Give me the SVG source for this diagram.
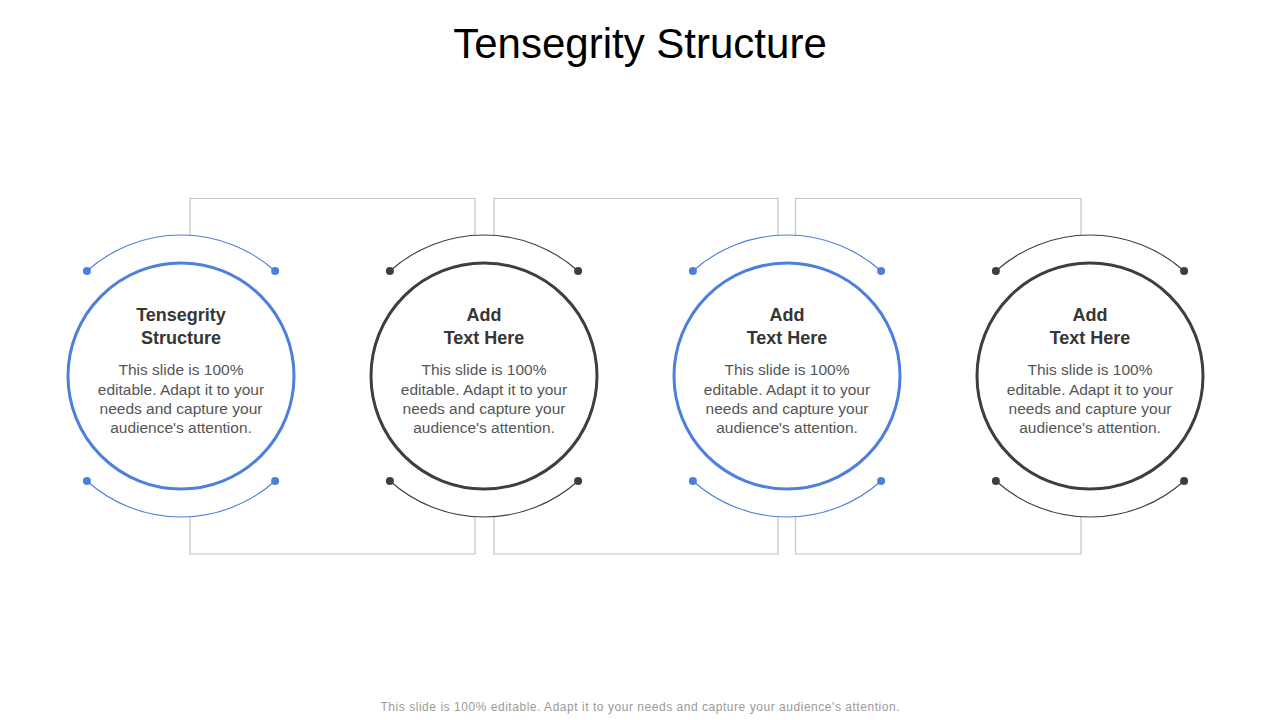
<svg xmlns="http://www.w3.org/2000/svg" width="1280" height="720" viewBox="0 0 1280 720">
<style>
.title{font-family:"Liberation Sans",Arial,sans-serif;font-size:42px;fill:#000;text-anchor:middle}
.head{font-family:"Liberation Sans",Arial,sans-serif;font-size:18px;font-weight:bold;fill:#363636;text-anchor:middle}
.body{font-family:"Liberation Sans",Arial,sans-serif;font-size:15.5px;fill:#555;text-anchor:middle}
.foot{font-family:"Liberation Sans",Arial,sans-serif;font-size:12px;fill:#9a9a9a;text-anchor:middle}
.conn{fill:none;stroke:#c4c4c4;stroke-width:1.2}
.ringB{fill:#fff;stroke:#4d7fdc;stroke-width:3}
.ringD{fill:#fff;stroke:#3a3f45;stroke-width:3}
.arcB{fill:none;stroke:#4d7fdc;stroke-width:1.1}
.arcD{fill:none;stroke:#3a3f45;stroke-width:1.1}
.dotB{fill:#4d7fdc}
.dotD{fill:#3a3f45}
</style>
<defs>
<g id="arcsB">
<path class="arcB" d="M -94.1 -105 A 141 141 0 0 1 94.1 -105"/>
<path class="arcB" d="M -94.1 105 A 141 141 0 0 0 94.1 105"/>
<circle class="dotB" cx="-94.1" cy="-105" r="4"/>
<circle class="dotB" cx="94.1" cy="-105" r="4"/>
<circle class="dotB" cx="-94.1" cy="105" r="4"/>
<circle class="dotB" cx="94.1" cy="105" r="4"/>
</g>
<g id="arcsD">
<path class="arcD" d="M -94.1 -105 A 141 141 0 0 1 94.1 -105"/>
<path class="arcD" d="M -94.1 105 A 141 141 0 0 0 94.1 105"/>
<circle class="dotD" cx="-94.1" cy="-105" r="4"/>
<circle class="dotD" cx="94.1" cy="-105" r="4"/>
<circle class="dotD" cx="-94.1" cy="105" r="4"/>
<circle class="dotD" cx="94.1" cy="105" r="4"/>
</g>
</defs>
<rect width="1280" height="720" fill="#fff"/>
<text class="title" x="640" y="58">Tensegrity Structure</text>

<g id="connectors">
<path class="conn" d="M190 235.3 V198.5 H475 V235.3"/>
<path class="conn" d="M190 516.7 V554 H475 V516.7"/>
<path class="conn" d="M494 235.3 V198.5 H778 V235.3"/>
<path class="conn" d="M494 516.7 V554 H778 V516.7"/>
<path class="conn" d="M795.5 235.3 V198.5 H1081 V235.3"/>
<path class="conn" d="M795.5 516.7 V554 H1081 V516.7"/>
</g>

<g id="node1">
<use href="#arcsB" x="181" y="376"/>
<circle class="ringB" cx="181" cy="376" r="113"/>
<text class="head" x="181" y="321">Tensegrity</text>
<text class="head" x="181" y="344">Structure</text>
<text class="body" x="181" y="375">This slide is 100%</text>
<text class="body" x="181" y="394.5">editable. Adapt it to your</text>
<text class="body" x="181" y="413.5">needs and capture your</text>
<text class="body" x="181" y="432.5">audience's attention.</text>
</g>

<g id="node2">
<use href="#arcsD" x="484" y="376"/>
<circle class="ringD" cx="484" cy="376" r="113"/>
<text class="head" x="484" y="321">Add</text>
<text class="head" x="484" y="344">Text Here</text>
<text class="body" x="484" y="375">This slide is 100%</text>
<text class="body" x="484" y="394.5">editable. Adapt it to your</text>
<text class="body" x="484" y="413.5">needs and capture your</text>
<text class="body" x="484" y="432.5">audience's attention.</text>
</g>

<g id="node3">
<use href="#arcsB" x="787" y="376"/>
<circle class="ringB" cx="787" cy="376" r="113"/>
<text class="head" x="787" y="321">Add</text>
<text class="head" x="787" y="344">Text Here</text>
<text class="body" x="787" y="375">This slide is 100%</text>
<text class="body" x="787" y="394.5">editable. Adapt it to your</text>
<text class="body" x="787" y="413.5">needs and capture your</text>
<text class="body" x="787" y="432.5">audience's attention.</text>
</g>

<g id="node4">
<use href="#arcsD" x="1090" y="376"/>
<circle class="ringD" cx="1090" cy="376" r="113"/>
<text class="head" x="1090" y="321">Add</text>
<text class="head" x="1090" y="344">Text Here</text>
<text class="body" x="1090" y="375">This slide is 100%</text>
<text class="body" x="1090" y="394.5">editable. Adapt it to your</text>
<text class="body" x="1090" y="413.5">needs and capture your</text>
<text class="body" x="1090" y="432.5">audience's attention.</text>
</g>

<text class="foot" x="640" y="711" textLength="519" lengthAdjust="spacing">This slide is 100% editable. Adapt it to your needs and capture your audience's attention.</text>
</svg>
